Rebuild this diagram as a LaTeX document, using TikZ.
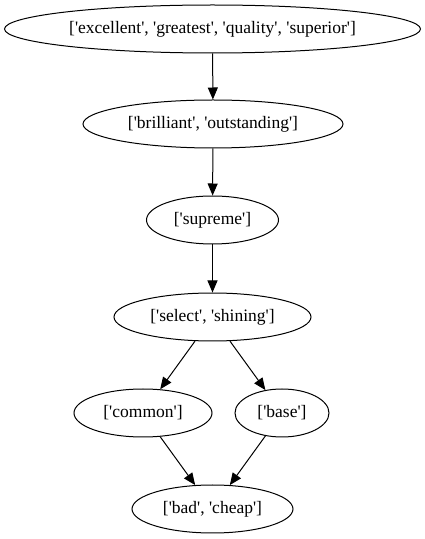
\documentclass[tikz,border=0pt]{standalone}
\usepackage{fontspec}
\setmainfont{Liberation Serif}[Ligatures=TeXOff]
\usetikzlibrary{shapes.geometric,arrows.meta}
\begin{document}
\begin{tikzpicture}[x=1pt,y=1pt,
  wnode/.style={ellipse, draw, line width=1pt, inner sep=0pt, minimum height=48pt, font=\fontsize{17.5}{19}\selectfont},
  edge/.style={draw, line width=1pt, -{Triangle[length=12pt,width=10pt]}}]
\useasboundingbox (0,0) rectangle (425,539);
\node[wnode, minimum width=416pt] (n1) at (212.5,510) {\makebox[0pt]{['excellent', 'greatest', 'quality', 'superior']}};
\node[wnode, minimum width=260pt] (n2) at (213,415) {\makebox[0pt]{['brilliant', 'outstanding']}};
\node[wnode, minimum width=132pt] (n3) at (212.5,319) {\makebox[0pt]{['supreme']}};
\node[wnode, minimum width=197pt] (n4) at (212.5,222) {\makebox[0pt]{['select', 'shining']}};
\node[wnode, minimum width=138pt] (n5) at (143,126) {\makebox[0pt]{['common']}};
\node[wnode, minimum width=94pt] (n6) at (282,126) {\makebox[0pt]{['base']}};
\node[wnode, minimum width=161pt] (n7) at (212.5,30) {\makebox[0pt]{['bad', 'cheap']}};
\draw[edge] (n1) -- (n2);
\draw[edge] (n2) -- (n3);
\draw[edge] (n3) -- (n4);
\draw[edge] (n4) -- (n5);
\draw[edge] (n4) -- (n6);
\draw[edge] (n5) -- (n7);
\draw[edge] (n6) -- (n7);
\end{tikzpicture}
\end{document}
